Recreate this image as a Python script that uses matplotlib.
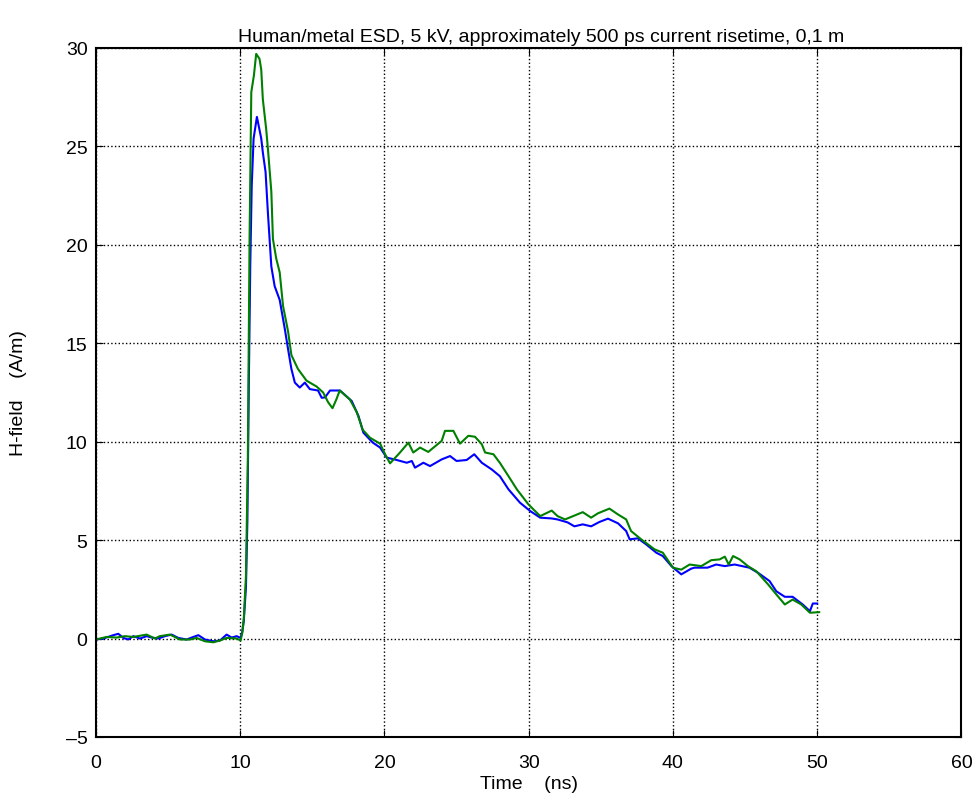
import matplotlib.pyplot as plt
import numpy as np

plt.rcParams['font.family'] = ['Liberation Sans', 'DejaVu Sans']

# Time (ns) / H-field (A/m)
time_blue = [0.0, 0.51, 1.2, 1.55, 1.9, 2.24, 2.59, 3.05, 3.51, 3.86, 4.32, 4.78, 5.25,
             5.71, 6.29, 6.75, 7.1, 7.56, 8.14, 8.6, 9.06, 9.41, 9.76, 10.03, 10.15,
             10.25, 10.4, 10.5, 10.6, 10.7, 10.8, 10.93, 11.16, 11.46, 11.57, 11.76,
             11.92, 12.16, 12.39, 12.74, 13.1, 13.32, 13.55, 13.79, 14.13, 14.48,
             14.83, 15.4, 15.65, 15.88, 16.23, 16.92, 17.6, 17.73, 18.2, 18.54, 19.0,
             19.2, 19.7, 20.16, 20.85, 21.55, 21.9, 22.12, 22.7, 23.16, 23.97, 24.55,
             25.0, 25.7, 26.23, 26.75, 27.44, 28.0, 28.6, 29.4, 30.1, 30.8, 31.6,
             32.0, 32.7, 33.17, 33.75, 34.33, 34.9, 35.5, 36.2, 36.76, 37.0, 37.57,
             38.15, 38.85, 39.3, 39.9, 40.58, 41.27, 41.5, 42.4, 43.0, 43.6, 44.28,
             45.3, 45.9, 46.7, 47.17, 47.76, 48.3, 49.0, 49.5, 49.7, 50.0]
field_blue = [-0.05, 0.0, 0.17, 0.24, 0.03, -0.05, 0.12, 0.0, 0.12, 0.05, 0.0, 0.12,
              0.2, 0.03, -0.05, 0.08, 0.17, -0.05, -0.14, -0.1, 0.2, 0.05, 0.12, 0.03,
              0.37, 0.9, 2.6, 6.0, 13.0, 19.0, 23.0, 25.4, 26.5, 25.4, 24.7, 23.7,
              21.65, 18.9, 17.9, 17.2, 15.7, 14.7, 13.7, 13.0, 12.75, 13.0, 12.67,
              12.6, 12.23, 12.25, 12.6, 12.6, 12.15, 12.07, 11.31, 10.46, 10.1, 9.95,
              9.7, 9.19, 9.07, 8.93, 9.02, 8.68, 8.93, 8.76, 9.1, 9.27, 9.02, 9.07,
              9.36, 8.93, 8.59, 8.25, 7.58, 6.9, 6.48, 6.14, 6.1, 6.05, 5.9, 5.7, 5.8,
              5.7, 5.92, 6.09, 5.85, 5.46, 5.04, 5.09, 4.78, 4.36, 4.19, 3.68, 3.26,
              3.55, 3.6, 3.6, 3.76, 3.68, 3.76, 3.6, 3.34, 2.92, 2.4, 2.12, 2.12,
              1.73, 1.39, 1.78, 1.78]

time_green = [0.0, 0.74, 1.43, 2.0, 2.59, 3.51, 4.09, 4.43, 5.13, 5.83, 6.52, 6.98,
              7.56, 8.14, 8.6, 9.06, 9.76, 10.03, 10.15, 10.25, 10.4, 10.53, 10.65,
              10.77, 10.95, 11.11, 11.34, 11.46, 11.57, 11.8, 11.92, 12.16, 12.27,
              12.5, 12.74, 12.97, 13.32, 13.55, 14.0, 14.6, 15.3, 15.75, 16.1, 16.4,
              16.67, 16.9, 17.6, 18.08, 18.5, 19.0, 19.7, 20.05, 20.39, 21.08, 21.66,
              22.0, 22.47, 23.04, 23.97, 24.2, 24.78, 25.24, 25.82, 26.28, 26.75,
              26.98, 27.56, 28.0, 28.6, 29.18, 29.98, 30.33, 30.8, 31.6, 32.0, 32.52,
              33.75, 34.33, 34.8, 35.6, 36.2, 36.76, 37.1, 37.8, 38.73, 39.3, 40.0,
              40.58, 41.16, 41.97, 42.66, 43.24, 43.6, 43.87, 44.17, 44.63, 45.2,
              45.78, 46.6, 47.17, 47.76, 48.3, 48.9, 49.5, 50.14]
field_green = [-0.05, 0.08, 0.05, 0.12, 0.08, 0.2, -0.0, 0.12, 0.2, -0.05, -0.05,
               0.03, -0.14, -0.19, -0.1, 0.03, 0.0, -0.1, 0.3, 1.0, 3.2, 9.1, 20.3,
               27.75, 28.6, 29.7, 29.45, 28.9, 27.4, 25.9, 24.9, 22.7, 20.3, 19.3,
               18.6, 16.9, 15.6, 14.4, 13.7, 13.1, 12.8, 12.5, 12.0, 11.7, 12.15,
               12.6, 12.15, 11.5, 10.6, 10.2, 9.9, 9.35, 8.9, 9.45, 9.95, 9.45, 9.7,
               9.48, 10.04, 10.55, 10.55, 9.9, 10.3, 10.25, 9.87, 9.45, 9.36, 8.93,
               8.25, 7.58, 6.82, 6.56, 6.22, 6.5, 6.22, 6.05, 6.42, 6.14, 6.36, 6.6,
               6.3, 6.05, 5.46, 5.04, 4.53, 4.36, 3.6, 3.5, 3.76, 3.68, 3.98, 4.02,
               4.16, 3.76, 4.19, 4.02, 3.68, 3.42, 2.75, 2.24, 1.73, 1.98, 1.73,
               1.31, 1.34]

x_ticks = np.arange(0, 61, 10)
y_ticks = np.arange(-5, 31, 5)

fig = plt.figure(figsize=(9.79, 8.03), dpi=100)
ax = fig.add_axes([0.098, 0.081, 0.884, 0.858])

ax.plot(time_blue, field_blue, color=(0, 0, 1), linewidth=1.5)
ax.plot(time_green, field_green, color=(0, 0.5, 0), linewidth=1.5)

ax.set_xlim(0, 60)
ax.set_ylim(-5, 30)
ax.set_xticks(x_ticks)
ax.set_yticks(y_ticks)
ax.set_yticklabels(['\u20135'] + [str(v) for v in y_ticks[1:]])

# matlab look: dotted grid, ticks inside on every side
ax.grid(True, linestyle=':', color='k', linewidth=1.0)
ax.tick_params(direction='in', top=True, right=True, labelsize=14, length=5)
ax.tick_params(axis='x', pad=12)
ax.tick_params(axis='y', pad=6)
for spine in ax.spines.values():
    spine.set_linewidth(1.5)

fig.text(541 / 979, 1 - 37 / 803, 'Human/metal ESD, 5 kV, approximately 500 ps current risetime, 0,1 m',
         fontsize=14, ha='center', va='center')
ax.set_xlabel('Time    (ns)', fontsize=14)
ax.set_ylabel('H-field    (A/m)', fontsize=14)
ax.xaxis.set_label_coords(0.5, -0.055)
ax.yaxis.set_label_coords(-0.080, 0.5)

plt.savefig('out.png', dpi=100)
